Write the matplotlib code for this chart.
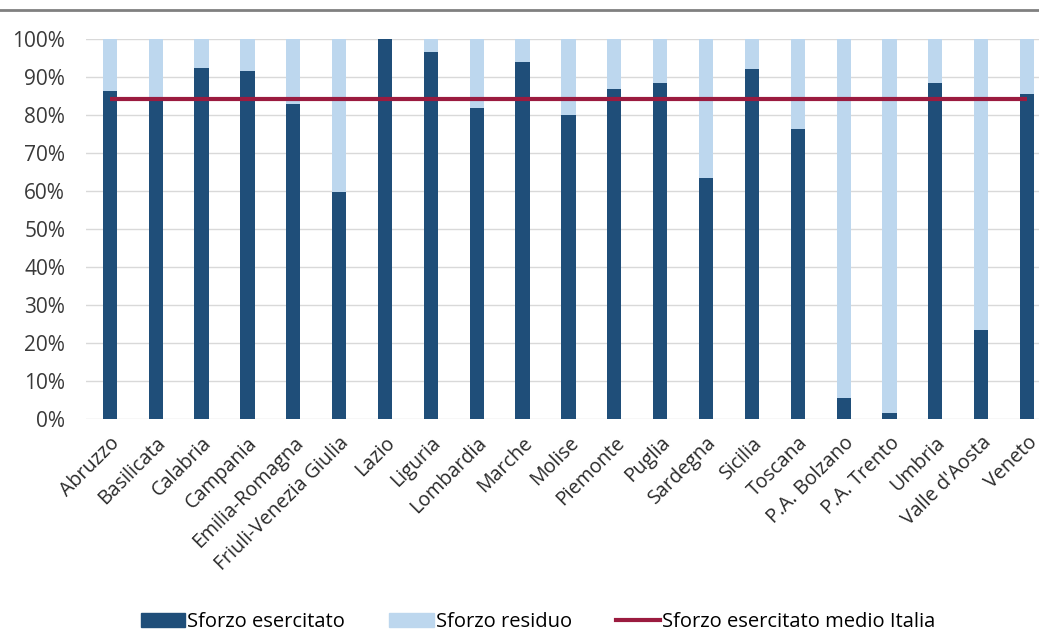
import matplotlib
matplotlib.use('Agg')
import matplotlib.pyplot as plt
from matplotlib.lines import Line2D
from matplotlib.patches import Patch
import numpy as np

regioni = ['Abruzzo', 'Basilicata', 'Calabria', 'Campania', 'Emilia-Romagna',
           'Friuli-Venezia Giulia', 'Lazio', 'Liguria', 'Lombardia', 'Marche',
           'Molise', 'Piemonte', 'Puglia', 'Sardegna', 'Sicilia', 'Toscana',
           'P.A. Bolzano', 'P.A. Trento', 'Umbria', "Valle d'Aosta", 'Veneto']
sforzo_esercitato = [86.4, 84.2, 92.5, 91.6, 82.8, 59.8, 100.0, 96.7, 81.9, 93.9,
                     80.0, 86.8, 88.3, 63.5, 92.0, 76.3, 5.5, 1.5, 88.3, 23.4, 85.4]
sforzo_residuo = [100 - v for v in sforzo_esercitato]
media_italia = 84.2
y_ticks = list(range(0, 101, 10))

dark = '#1F4E79'
light = '#BDD7EE'
red = '#9B1B3F'

plt.rcParams['font.family'] = ['Open Sans', 'DejaVu Sans']

fig = plt.figure(figsize=(10.39, 6.33), dpi=100)
ax = fig.add_axes([86 / 1039, 1 - 419 / 633, 1 - 86 / 1039, 380 / 633])

x = np.arange(len(regioni))
w = 0.31
ax.bar(x, sforzo_esercitato, width=w, color=dark, zorder=2)
ax.bar(x, sforzo_residuo, width=w, bottom=sforzo_esercitato, color=light, zorder=2)
ax.plot(x, [media_italia] * len(x), color=red, linewidth=3, zorder=3,
        solid_capstyle='butt')

ax.set_ylim(0, 100)
ax.set_xlim(-0.52, 20.26)
ax.set_yticks(y_ticks)
ax.set_yticklabels([f'{t}%' for t in y_ticks], fontsize=15, color='#3a3a3a')
ax.yaxis.grid(True, color='#D9D9D9', linewidth=1, zorder=0)
ax.set_xticks(x)
ax.set_xticklabels(regioni, rotation=45, ha='right', rotation_mode='anchor',
                   fontsize=14.2, color='#2a2a2a')
ax.tick_params(axis='both', length=0)
ax.tick_params(axis='y', pad=15)
ax.tick_params(axis='x', pad=10)
for s in ax.spines.values():
    s.set_visible(False)

# grey rule at the top of the picture
fig.add_artist(Line2D([0, 1], [1 - 10 / 633, 1 - 10 / 633], color='#808080',
                      linewidth=2, transform=fig.transFigure))

handles = [Patch(color=dark), Patch(color=light),
           Line2D([0], [0], color=red, linewidth=3)]
labels = ['Sforzo esercitato', 'Sforzo residuo', 'Sforzo esercitato medio Italia']
fig.legend(handles, labels, loc='center', bbox_to_anchor=(0.518, 1 - 622 / 633),
           ncol=3, frameon=False, fontsize=14.5, handlelength=2.2,
           handletextpad=0.1, columnspacing=2.2, borderpad=0)

fig.savefig('out.png', dpi=100)
